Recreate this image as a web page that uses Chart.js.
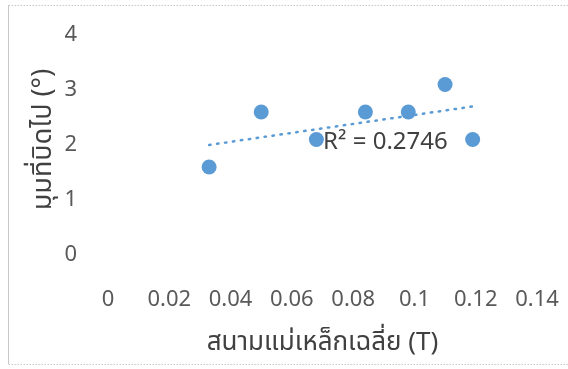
<!DOCTYPE html>
<html>
<head>
<meta charset="utf-8">
<script src="https://cdn.jsdelivr.net/npm/chart.js@4/dist/chart.umd.min.js"></script>
<style>
  html, body { margin: 0; padding: 0; background: #ffffff; }
  #wrap { width: 568px; height: 369px; position: relative; }
</style>
</head>
<body>
<div id="wrap"><canvas id="c" width="568" height="369"></canvas></div>
<script>
// ---- data ----
const fieldT = [0.033, 0.05, 0.068, 0.084, 0.098, 0.11, 0.119];   // average magnetic field (T)
const angleDeg = [1.5, 2.5, 2, 2.5, 2.5, 3, 2];                   // deflection angle (deg)
const xTickValues = [0, 0.02, 0.04, 0.06, 0.08, 0.1, 0.12, 0.14];
const yTickValues = [0, 1, 2, 3, 4];
const xTitle = 'สนามแม่เหล็กเฉลี่ย (T)';
const yTitle = 'มุมที่บิดไป (°)';
const r2Text = 'R² = 0.2746';
const r2Anchor = [0.0702, 1.955];  // data-space anchor of the R² label (left, middle)

// linear least-squares trendline through the data
const n = fieldT.length;
const mx = fieldT.reduce((a, b) => a + b, 0) / n;
const my = angleDeg.reduce((a, b) => a + b, 0) / n;
let sxy = 0, sxx = 0;
for (let i = 0; i < n; i++) { sxy += (fieldT[i] - mx) * (angleDeg[i] - my); sxx += (fieldT[i] - mx) ** 2; }
const slope = sxy / sxx, icpt = my - slope * mx;
const xMin = Math.min(...fieldT), xMax = Math.max(...fieldT);
const trend = [{x: xMin, y: icpt + slope * xMin}, {x: xMax, y: icpt + slope * xMax}];

const FONT = "'Noto Sans', 'Noto Sans Thai', 'Leelawadee UI', Tahoma, 'DejaVu Sans', sans-serif";
const BLUE = '#5B9BD5';

const framePlugin = {
  id: 'frame',
  beforeDraw(chart) {
    const ctx = chart.ctx;
    ctx.save();
    ctx.fillStyle = '#ffffff';
    ctx.fillRect(0, 0, chart.width, chart.height);
    ctx.strokeStyle = '#c8c8c8';
    ctx.lineWidth = 1;
    ctx.beginPath();
    ctx.moveTo(8.5, 5); ctx.lineTo(8.5, 364); ctx.stroke();
    ctx.setLineDash([1.5, 1.5]);
    ctx.beginPath();
    ctx.moveTo(8.5, 5.5); ctx.lineTo(chart.width, 5.5);
    ctx.moveTo(8.5, 364.5); ctx.lineTo(chart.width, 364.5);
    ctx.stroke();
    ctx.restore();
  }
};

const r2Plugin = {
  id: 'r2label',
  afterDatasetsDraw(chart) {
    const ctx = chart.ctx;
    const xs = chart.scales.x, ys = chart.scales.y;
    ctx.save();
    ctx.font = '24px ' + FONT;
    ctx.fillStyle = '#404040';
    ctx.textAlign = 'left';
    ctx.textBaseline = 'middle';
    ctx.fillText(r2Text, xs.getPixelForValue(r2Anchor[0]), ys.getPixelForValue(r2Anchor[1]));
    ctx.restore();
  }
};

function noPad(s) { s.paddingTop = 0; s.paddingBottom = 0; s.paddingLeft = 0; s.paddingRight = 0; }

new Chart(document.getElementById('c'), {
  type: 'scatter',
  data: {
    datasets: [
      {
        type: 'scatter',
        data: fieldT.map((x, i) => ({x, y: angleDeg[i]})),
        backgroundColor: BLUE,
        borderWidth: 0,
        pointRadius: 7.5,
        pointHoverRadius: 7.5,
        order: 1
      },
      {
        type: 'line',
        data: trend,
        borderColor: BLUE,
        borderWidth: 2.5,
        borderDash: [1.5, 6.5],
        borderCapStyle: 'round',
        pointRadius: 0,
        fill: false,
        order: 2
      }
    ]
  },
  options: {
    responsive: false,
    animation: false,
    events: [],
    layout: { padding: { left: 0, right: 31, top: 29.5, bottom: 0 } },
    plugins: { legend: { display: false }, tooltip: { enabled: false } },
    scales: {
      x: {
        type: 'linear',
        min: 0, max: 0.14,
        grid: { display: false },
        border: { display: false },
        afterBuildTicks: s => { s.ticks = xTickValues.map(v => ({value: v})); },
        afterFit: s => { s.height = 119.5; noPad(s); },
        ticks: {
          padding: 29,
          color: '#595959',
          font: { family: FONT, size: 22 },
          maxRotation: 0,
          autoSkip: false,
          callback: v => String(+Number(v).toFixed(2))
        },
        title: {
          display: true, text: xTitle,
          color: '#404040',
          font: { family: FONT, size: 26 },
          padding: { top: 0, bottom: 10.4 }
        }
      },
      y: {
        type: 'linear',
        min: 0, max: 4,
        grid: { display: false },
        border: { display: false },
        afterBuildTicks: s => { s.ticks = yTickValues.map(v => ({value: v})); },
        afterFit: s => { s.width = 108; noPad(s); },
        ticks: {
          padding: 23,
          labelOffset: 5.5,
          color: '#595959',
          font: { family: FONT, size: 22 },
          callback: v => String(v)
        },
        title: {
          display: true, text: yTitle,
          color: '#404040',
          font: { family: FONT, size: 27 },
          padding: { top: 26.8, bottom: 0 }
        }
      }
    }
  },
  plugins: [framePlugin, r2Plugin]
});
</script>
</body>
</html>
